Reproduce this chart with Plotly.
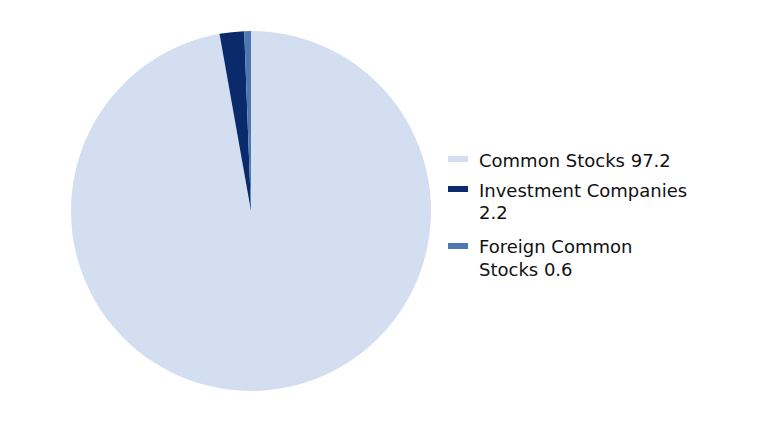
import plotly.graph_objects as go

labels = ["Common Stocks 97.2", "Investment Companies<br>2.2", "Foreign Common<br>Stocks 0.6"]
values = [97.2, 2.2, 0.6]
colors = ["#D3DEF0", "#0B2A6B", "#5078B0"]

W, H, OFF = 768, 432, 8  # page body offset of 8px


def px(sx):
    return (sx - OFF) / W


def py(sy):
    return 1 - (sy - OFF) / H


fig = go.Figure(go.Pie(
    labels=labels,
    values=values,
    sort=False,
    direction="clockwise",
    rotation=0,
    textinfo="none",
    showlegend=False,
    marker=dict(colors=colors, line=dict(width=0)),
    domain=dict(x=[px(71), px(431)], y=[py(391), py(31)]),
))

# custom legend (bar symbols + text), matching the reference layout
item_tops = [160, 190, 247]  # screen y of first text line centre per item
line_gap = 22
shapes, annotations = [], []
for lab, col, yc in zip(labels, colors, item_tops):
    shapes.append(dict(type="rect", xref="paper", yref="paper",
                       x0=px(448), x1=px(468), y0=py(yc + 2), y1=py(yc - 4),
                       fillcolor=col, line=dict(width=0)))
    for i, line in enumerate(lab.split("<br>")):
        annotations.append(dict(text=line, xref="paper", yref="paper",
                                x=px(477), y=py(yc + i * line_gap),
                                xanchor="left", yanchor="middle",
                                showarrow=False,
                                font=dict(family="DejaVu Sans", size=18, color="#111111")))

fig.update_layout(
    width=W, height=H,
    margin=dict(l=0, r=0, t=0, b=0),
    paper_bgcolor="white",
    plot_bgcolor="white",
    font=dict(family="DejaVu Sans", size=18, color="#111111"),
    shapes=shapes,
    annotations=annotations,
)

fig.write_html("out.html")
